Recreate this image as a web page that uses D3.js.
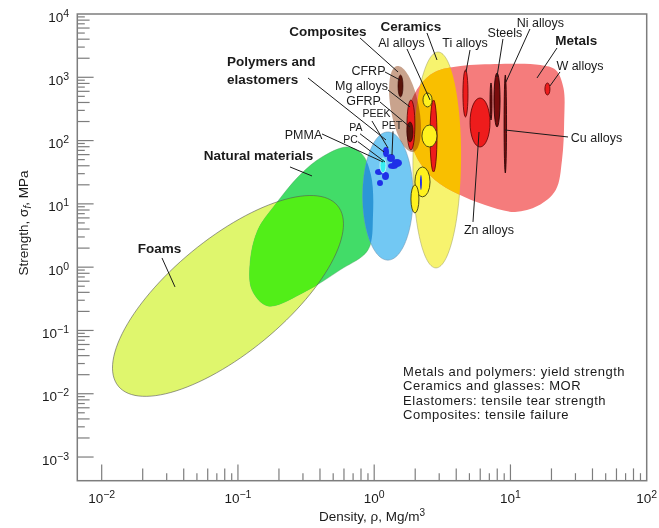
<!DOCTYPE html>
<html>
<head>
<meta charset="utf-8">
<script src="https://cdn.jsdelivr.net/npm/d3@7"></script>
<style>
  body { margin: 0; background: #fff; }
  text { font-family: "Liberation Sans", Arial, Helvetica, sans-serif; fill: #1a1a1a; }
</style>
</head>
<body>
<svg id="chart" width="659" height="528"></svg>
<script>
// ---- Material families: density ρ (Mg/m³) vs strength σf (MPa) ----

// Envelopes described as ellipses: centre, end of one semi-axis, end of the conjugate semi-axis
const foamsEllipse      = { centre: [0.0845, 0.351], axisA: [0.5388, 9.37], axisB: [0.1561, 0.0708] };
const polymersEllipse   = { centre: [1.26, 13.3],    axisA: [1.26, 137],   axisB: [1.93, 13.3] };
const ceramicsEllipse   = { centre: [2.89, 49.4],    axisA: [2.94, 2510],  axisB: [4.34, 49.4] };
const compositesEllipse = { centre: [1.683, 316],    axisA: [1.470, 1508], axisB: [2.125, 347] };

// Envelopes traced as closed outlines [ρ, σ]
const naturalOutline = [
  [0.632, 79], [0.814, 61], [0.947, 28.6], [0.98, 6.7], [0.90, 1.87], [0.56, 0.90],
  [0.31, 0.41], [0.166, 0.244], [0.127, 0.436], [0.123, 1.21], [0.140, 3.87],
  [0.187, 9.6], [0.285, 28.6], [0.414, 55]
];
const metalsOutline = [
  [1.83, 365], [2.17, 756], [2.79, 1213], [4.30, 1508], [8.39, 1623], [16.6, 1564],
  [21.5, 1304], [24.5, 678], [24.8, 211], [23.9, 49.4], [21.5, 16.6], [15.9, 9.3],
  [10.8, 7.45], [6.51, 9.6], [4.12, 14.3], [2.79, 23.9], [2.10, 49.4], [1.78, 147]
];

// Individual material bubbles: ρ range and σ range
const metalBubbles = [
  { name: "Ti alloys", rho: [4.48, 4.88], sigma: [236, 1304] },
  { name: "Zn alloys", rho: [5.05, 7.08], sigma: [79.2, 471] },
  { name: "Al alloys", rho: [2.57, 2.89], sigma: [31.9, 438] },
  { name: "Mg alloys", rho: [1.74, 1.99], sigma: [71.0, 438] },
  { name: "W alloys",  rho: [17.9, 19.5], sigma: [525, 813] }
];
const darkMetalBubbles = [
  { name: "Steels",    rho: [7.57, 8.39], sigma: [164, 1169] },
  { name: "Ni alloys", rho: [7.08, 7.32], sigma: [211.5, 813] },
  { name: "Cu alloys", rho: [8.98, 9.36], sigma: [30.8, 1087] }
];
const compositeBubbles = [
  { name: "CFRP", rho: [1.495, 1.627], sigma: [488, 1087] },
  { name: "GFRP", rho: [1.74, 1.927],  sigma: [95, 197] }
];
const ceramicBubbles = [
  { name: "Alumina",  rho: [2.24, 2.89], sigma: [79.2, 176] },
  { name: "SiC",      rho: [2.28, 2.66], sigma: [340, 565] },
  { name: "Glass",    rho: [1.99, 2.57], sigma: [12.9, 38.3] },
  { name: "Silica",   rho: [1.86, 2.13], sigma: [7.18, 19.9] }
];
const polymerBubbles = [
  { name: "PEEK", rho: [1.16, 1.284],  sigma: [55.1, 79.2] },
  { name: "PET",  rho: [1.241, 1.421], sigma: [45.9, 61.4] },
  { name: "PA",   rho: [1.351, 1.600], sigma: [38.3, 51.2] },
  { name: "PC",   rho: [1.263, 1.495], sigma: [35.6, 44.3] },
  { name: "PP",   rho: [1.014, 1.16],  sigma: [28.6, 35.6] },
  { name: "PS",   rho: [1.141, 1.284], sigma: [23.9, 31.9] },
  { name: "PE",   rho: [1.049, 1.16],  sigma: [19.2, 23.9] },
  { name: "Glass bar", rho: [2.168, 2.24], sigma: [16.6, 28.6] }
];
const pmmaBubble = { name: "PMMA", rho: [1.103, 1.221], sigma: [30.8, 53.1] };

// Labels [text, ρ, σ] and their leader lines [[ρ, σ], [ρ, σ]]
const familyLabels = [
  ["Composites", 0.458, 4491], ["Ceramics", 1.86, 5388], ["Metals", 30.4, 3238],
  ["Natural materials", 0.1415, 49.4], ["Foams", 0.02656, 1.676]
];
const polymerFamilyLabel = [["Polymers and", 0.0831, 1508], ["elastomers", 0.0831, 784]];
const materialLabels = [
  ["Al alloys", 1.586, 3011], ["Ti alloys", 4.64, 3011], ["Steels", 9.11, 4331],
  ["Ni alloys", 16.6, 6233], ["W alloys", 32.4, 1304], ["Cu alloys", 42.8, 95],
  ["Zn alloys", 6.96, 3.35], ["CFRP", 0.908, 1087], ["Mg alloys", 0.807, 630],
  ["GFRP", 0.835, 365], ["PMMA", 0.303, 106]
];
const polymerLabels = [
  ["PEEK", 1.040, 231.7], ["PET", 1.351, 149.8], ["PA", 0.735, 141.8], ["PC", 0.670, 91.6]
];
const leaders = [
  [[0.787, 4177], [1.495, 1213]],   // Composites
  [[2.44, 5009], [2.89, 1876]],     // Ceramics
  [[1.74, 2800], [2.57, 438]],      // Al alloys
  [[5.05, 2700], [4.72, 1213]],     // Ti alloys
  [[8.81, 4028], [7.96, 1011]],     // Steels
  [[13.9, 5794], [9.27, 843]],      // Ni alloys
  [[21.96, 2903], [15.66, 975]],    // Metals
  [[23.1, 1213], [19.5, 729]],      // W alloys
  [[9.11, 147], [26.45, 114]],      // Cu alloys
  [[5.88, 136.7], [5.31, 5.18]],    // Zn alloys
  [[1.20, 1213], [1.547, 906]],     // CFRP
  [[1.263, 630], [1.83, 340]],      // Mg alloys
  [[1.103, 407], [1.83, 164]],      // GFRP
  [[0.963, 204], [1.263, 76.4]],    // PEEK
  [[1.374, 140], [1.351, 59.2]],    // PET
  [[0.787, 128], [1.180, 66.1]],    // PA
  [[0.760, 96], [1.200, 45.9]],     // PC
  [[0.414, 127.2], [1.16, 45.9]],   // PMMA
  [[0.3267, 975], [1.221, 102.2]],  // Polymers and elastomers
  [[0.241, 38.3], [0.3496, 27.6]],  // Natural materials
  [[0.02771, 1.397], [0.03451, 0.487]] // Foams
];

const noteLines = [
  "Metals and polymers: yield strength",
  "Ceramics and glasses: MOR",
  "Elastomers: tensile tear strength",
  "Composites: tensile failure"
];
const noteAnchor = [1.63, 0.0193];

// Axis decades
const xDecades = [-2, -1, 0, 1, 2];
const yDecades = [-3, -2, -1, 0, 1, 2, 3, 4];

// ---- Drawing ----
const svg = d3.select("#chart");
const frame = { left: 77.3, right: 646.7, top: 14, bottom: 480.7 };

const x = d3.scaleLog().domain([Math.pow(10, -2.179), 100]).range([frame.left, frame.right]);
const y = d3.scaleLog().domain([Math.pow(10, -3.374), 1e4]).range([frame.bottom, frame.top]);

function ellipsePath(e, n = 120) {
  const cx = x(e.centre[0]), cy = y(e.centre[1]);
  const ax = x(e.axisA[0]) - cx, ay = y(e.axisA[1]) - cy;
  const bx = x(e.axisB[0]) - cx, by = y(e.axisB[1]) - cy;
  const pts = d3.range(n).map(i => {
    const t = 2 * Math.PI * i / n;
    return [cx + ax * Math.cos(t) + bx * Math.sin(t), cy + ay * Math.cos(t) + by * Math.sin(t)];
  });
  return d3.line().curve(d3.curveLinearClosed)(pts);
}
const outlinePath = d3.line()
  .x(d => x(d[0])).y(d => y(d[1]))
  .curve(d3.curveCatmullRomClosed.alpha(0.5));

const foamsD = ellipsePath(foamsEllipse);
const naturalD = outlinePath(naturalOutline);
const polymersD = ellipsePath(polymersEllipse);
const ceramicsD = ellipsePath(ceramicsEllipse);
const metalsD = outlinePath(metalsOutline);
const compositesD = ellipsePath(compositesEllipse);

const defs = svg.append("defs");
[["clip-foams", foamsD], ["clip-polymers", polymersD], ["clip-ceramics", ceramicsD]]
  .forEach(([id, d]) => defs.append("clipPath").attr("id", id).append("path").attr("d", d));

const env = svg.append("g");
env.append("path").attr("d", foamsD).attr("fill", "#dff66d");
env.append("path").attr("d", naturalD).attr("fill", "#42dc68")
  .attr("stroke", "#4a9a5a").attr("stroke-width", 0.4);
env.append("path").attr("d", naturalD).attr("clip-path", "url(#clip-foams)").attr("fill", "#52ee18");
env.append("path").attr("d", foamsD).attr("fill", "none").attr("stroke", "#555").attr("stroke-width", 0.6);

env.append("path").attr("d", polymersD).attr("fill", "#72c8f3")
  .attr("stroke", "#6f8fa8").attr("stroke-width", 0.5);
env.append("path").attr("d", naturalD).attr("clip-path", "url(#clip-polymers)").attr("fill", "#2c96d6");

env.append("path").attr("d", ceramicsD).attr("fill", "#f7f36e")
  .attr("stroke", "#9a9a60").attr("stroke-width", 0.5);
env.append("path").attr("d", polymersD).attr("clip-path", "url(#clip-ceramics)").attr("fill", "#cbe98e");

env.append("path").attr("d", metalsD).attr("fill", "#f57c7c");
env.append("path").attr("d", metalsD).attr("clip-path", "url(#clip-ceramics)").attr("fill", "#f9bf00");

env.append("path").attr("d", compositesD).attr("fill", "#c9a38d")
  .style("mix-blend-mode", "multiply");

// Bubbles
function bubbles(data, fill, stroke, sw) {
  svg.append("g").selectAll("ellipse").data(data).join("ellipse")
    .attr("cx", d => (x(d.rho[0]) + x(d.rho[1])) / 2)
    .attr("cy", d => (y(d.sigma[0]) + y(d.sigma[1])) / 2)
    .attr("rx", d => (x(d.rho[1]) - x(d.rho[0])) / 2)
    .attr("ry", d => (y(d.sigma[0]) - y(d.sigma[1])) / 2)
    .attr("fill", fill).attr("stroke", stroke).attr("stroke-width", sw);
}
bubbles(metalBubbles, "#ee1c1c", "#5a0000", 0.8);
bubbles(darkMetalBubbles, "#7a0c0c", "#1a0000", 0.8);
bubbles(compositeBubbles, "#5a140a", "#2a0000", 0.6);
bubbles(ceramicBubbles, "#fff21e", "#3a3a10", 0.9);
bubbles(polymerBubbles, "#1f30e8", "none", 0);
bubbles([pmmaBubble], "#38eef2", "#ffffff", 0.6);

// Frame and ticks
const axisColor = "#7d7d7d";
const axes = svg.append("g");
axes.append("rect")
  .attr("x", frame.left).attr("y", frame.top)
  .attr("width", frame.right - frame.left).attr("height", frame.bottom - frame.top)
  .attr("fill", "none").attr("stroke", axisColor).attr("stroke-width", 1.5);

function tickSet(decades) {
  const out = [];
  decades.forEach((k, i) => {
    out.push({ v: Math.pow(10, k), m: 1 });
    if (i < decades.length - 1) for (let m = 2; m <= 9; m++) out.push({ v: m * Math.pow(10, k), m });
  });
  return out;
}
const tickLen = m => m === 1 ? 16.3 : (m % 2 === 0 ? 12.3 : 7.5);

axes.selectAll(".xt").data(tickSet(xDecades).filter(t => t.v < 100)).join("line")
  .attr("x1", d => x(d.v)).attr("x2", d => x(d.v))
  .attr("y1", frame.bottom).attr("y2", d => frame.bottom - tickLen(d.m))
  .attr("stroke", axisColor).attr("stroke-width", 1.2);
axes.selectAll(".yt").data(tickSet(yDecades).filter(t => t.v < 1e4)).join("line")
  .attr("y1", d => y(d.v)).attr("y2", d => y(d.v))
  .attr("x1", frame.left).attr("x2", d => frame.left + tickLen(d.m))
  .attr("stroke", axisColor).attr("stroke-width", 1.2);

const sup = k => (k < 0 ? "\u2212" + (-k) : String(k));
xDecades.forEach(k => {
  const t = axes.append("text").attr("x", x(Math.pow(10, k))).attr("y", 503)
    .attr("text-anchor", "middle").attr("font-size", 13.5);
  t.append("tspan").text("10");
  t.append("tspan").attr("dy", -5).attr("font-size", 10.5).text(sup(k));
});
yDecades.forEach(k => {
  const t = axes.append("text").attr("x", 69).attr("y", y(Math.pow(10, k)) + 7.5)
    .attr("text-anchor", "end").attr("font-size", 13.5);
  t.append("tspan").text("10");
  t.append("tspan").attr("dy", -5).attr("font-size", 10.5).text(sup(k));
});

// Axis titles
const xt = svg.append("text").attr("x", 372).attr("y", 521)
  .attr("text-anchor", "middle").attr("font-size", 13.5);
xt.append("tspan").text("Density, \u03c1, Mg/m");
xt.append("tspan").attr("dy", -5).attr("font-size", 10).text("3");

const yt = svg.append("text").attr("transform", "translate(28,223) rotate(-90)")
  .attr("text-anchor", "middle").attr("font-size", 13.5);
yt.append("tspan").text("Strength, \u03c3");
yt.append("tspan").attr("dy", 3).attr("font-size", 10).attr("font-style", "italic").text("f");
yt.append("tspan").attr("dy", -3).text(", MPa");

// Leader lines
svg.append("g").selectAll("line").data(leaders).join("line")
  .attr("x1", d => x(d[0][0])).attr("y1", d => y(d[0][1]))
  .attr("x2", d => x(d[1][0])).attr("y2", d => y(d[1][1]))
  .attr("stroke", "#1a1a1a").attr("stroke-width", 1);

// Labels
function labelGroup(data, size, weight, anchor) {
  svg.append("g").selectAll("text").data(data).join("text")
    .attr("x", d => x(d[1])).attr("y", d => y(d[2]))
    .attr("text-anchor", anchor).attr("font-size", size).attr("font-weight", weight)
    .text(d => d[0]);
}
labelGroup(familyLabels, 13.5, "bold", "middle");
labelGroup(polymerFamilyLabel, 13.5, "bold", "start");
labelGroup(materialLabels, 12.5, "normal", "middle");
labelGroup(polymerLabels, 10.5, "normal", "middle");

// Note on strength definitions
svg.append("g").selectAll("text").data(noteLines).join("text")
  .attr("x", x(noteAnchor[0]))
  .attr("y", (d, i) => y(noteAnchor[1]) + i * 14.5)
  .attr("font-size", 13).attr("letter-spacing", 0.5)
  .text(d => d);
</script>
</body>
</html>
